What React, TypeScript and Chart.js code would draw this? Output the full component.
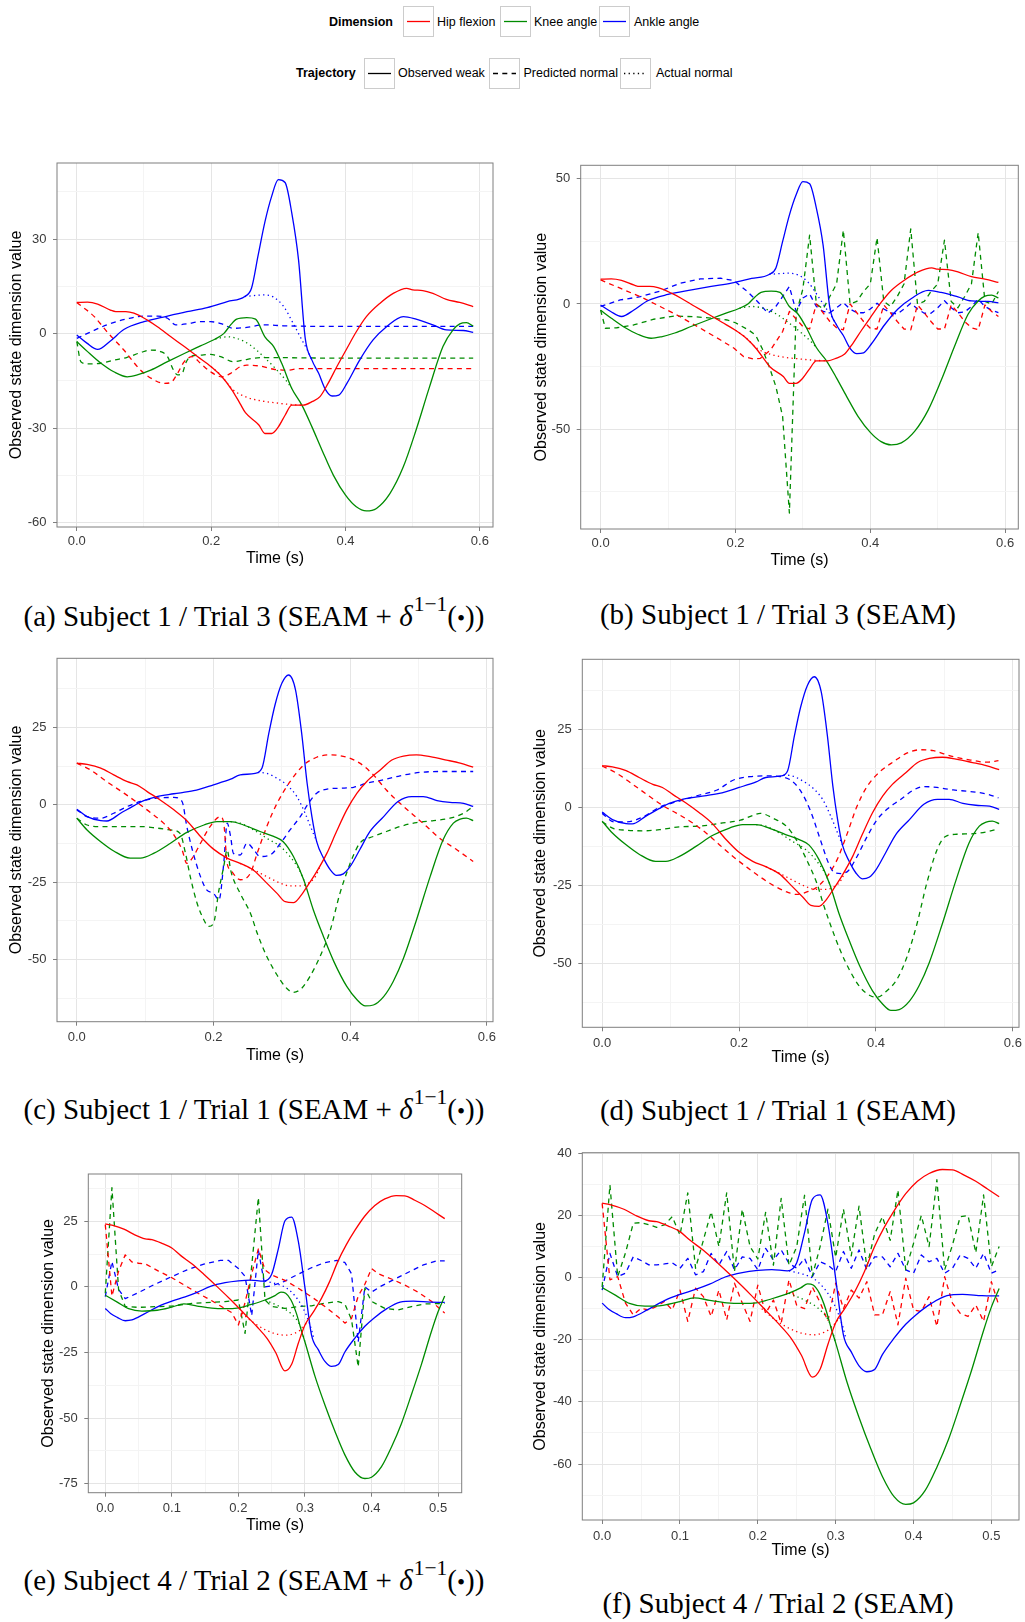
import React, { useEffect, useRef } from "react";
import { Chart, registerables } from "chart.js";

Chart.register(...registerables);

type Pt = [number, number];

// ---------- Subject 1 / Trial 3 (panels a, b): observed weak (solid) & actual normal (dotted) ----------
const s13HipWeak: Pt[] = [[0,9.9],[0.016,10],[0.031,9.4],[0.05,7.5],[0.058,7],[0.073,7],[0.085,6.5],[0.105,4.3],[0.12,2.2],[0.14,-1],[0.16,-4.1],[0.18,-7.3],[0.2,-10.5],[0.216,-13.7],[0.231,-17.9],[0.243,-22.2],[0.251,-25.1],[0.271,-29],[0.28,-31.7],[0.29,-31.7],[0.3,-29.6],[0.31,-25.9],[0.32,-22.7],[0.337,-22.7],[0.35,-21.6],[0.362,-20],[0.374,-15.8],[0.387,-10.5],[0.402,-4.7],[0.416,0.6],[0.431,5.4],[0.451,9.6],[0.471,12.8],[0.491,14.4],[0.5,13.9],[0.515,13.7],[0.53,12.8],[0.55,10.9],[0.57,9.9],[0.59,8.6]];
const s13KneeWeak: Pt[] = [[0,-2.5],[0.016,-5.7],[0.036,-9.4],[0.055,-12.1],[0.075,-13.7],[0.09,-13.1],[0.11,-11.6],[0.135,-8.9],[0.16,-6.3],[0.184,-3.9],[0.206,-1.7],[0.219,0.1],[0.229,2.8],[0.238,4.6],[0.253,5.1],[0.266,4.6],[0.28,-1],[0.293,-4.1],[0.305,-9.4],[0.32,-17.4],[0.335,-22.7],[0.35,-29.6],[0.365,-37],[0.382,-45],[0.4,-51.3],[0.416,-55],[0.431,-56.3],[0.446,-55.5],[0.466,-50.8],[0.486,-42.3],[0.505,-30.6],[0.525,-16.9],[0.545,-4.1],[0.56,1.2],[0.57,3.1],[0.58,3.5],[0.59,2.4]];
const s13AnkleWeak: Pt[] = [[0,-0.4],[0.015,-3],[0.031,-5],[0.05,-2.3],[0.07,1.3],[0.1,3.8],[0.135,5.6],[0.164,7],[0.194,8.3],[0.224,10.2],[0.25,11.8],[0.26,14.4],[0.27,25],[0.28,35.5],[0.29,43.6],[0.3,48.9],[0.31,48],[0.32,38.3],[0.33,23.5],[0.34,-1.5],[0.35,-8.4],[0.36,-12.6],[0.37,-17.7],[0.38,-19.8],[0.39,-19.5],[0.402,-15.8],[0.421,-8.4],[0.441,-2],[0.461,2.2],[0.486,5.4],[0.505,4.6],[0.53,2.8],[0.55,1.2],[0.575,1],[0.59,0.4]];
const s13HipNormal: Pt[] = [[0.2,-10.5],[0.214,-13.1],[0.233,-17.9],[0.253,-20.2],[0.273,-21.3],[0.293,-21.9],[0.318,-22.5],[0.337,-22.7]];
const s13KneeNormal: Pt[] = [[0.206,-1.7],[0.224,-1],[0.238,-1.5],[0.258,-3.6],[0.278,-7.3],[0.298,-11.6],[0.313,-15.3],[0.32,-17.4]];
const s13AnkleNormal: Pt[] = [[0.25,11.8],[0.278,12.3],[0.293,11.6],[0.308,8.6],[0.322,3.3],[0.335,-2],[0.342,-4.7],[0.35,-8.4]];

// panel (a) predicted normal (dashed)
const aHipPred: Pt[] = [[0,9.9],[0.026,5.4],[0.045,0.6],[0.07,-5.2],[0.095,-11.6],[0.115,-14.7],[0.13,-15.8],[0.14,-15.5],[0.15,-12.6],[0.16,-8.9],[0.172,-7.3],[0.184,-9.4],[0.199,-12.1],[0.216,-13.7],[0.229,-12.6],[0.243,-10.5],[0.253,-10],[0.273,-10.3],[0.293,-11.3],[0.313,-11.6],[0.332,-11.1],[0.4,-11.1],[0.5,-11.1],[0.59,-11.1]];
const aKneePred: Pt[] = [[0,-2.5],[0.006,-8.9],[0.016,-9.6],[0.036,-9.4],[0.055,-8.4],[0.075,-7.5],[0.095,-6],[0.11,-5.2],[0.125,-5.7],[0.135,-7.3],[0.144,-11.6],[0.15,-13.1],[0.157,-12.6],[0.162,-9.4],[0.169,-7.3],[0.184,-6.8],[0.199,-6.6],[0.214,-7.3],[0.233,-8.9],[0.248,-8.4],[0.263,-7.8],[0.283,-7.6],[0.4,-7.8],[0.59,-7.8]];
const aAnklePred: Pt[] = [[0,-1.5],[0.021,0.6],[0.045,2.8],[0.075,4.7],[0.1,5.6],[0.12,5.6],[0.135,4.9],[0.147,2.8],[0.164,3.1],[0.184,3.8],[0.199,3.8],[0.216,3.1],[0.233,1.7],[0.253,2],[0.278,2.8],[0.308,2.5],[0.4,2.3],[0.59,2.3]];

// panel (b) predicted normal (dashed)
const bHipPred: Pt[] = [[0,9.6],[0.029,6.3],[0.059,2.9],[0.089,-1.1],[0.118,-5.1],[0.148,-9.7],[0.178,-14.4],[0.198,-17.7],[0.212,-21],[0.227,-22],[0.237,-21.7],[0.252,-18.4],[0.27,-11],[0.28,-3],[0.29,-6],[0.3,-9],[0.31,-10],[0.32,0],[0.33,-3.5],[0.34,-7],[0.35,-9.5],[0.36,-10.3],[0.37,0],[0.38,-3.5],[0.39,-7],[0.4,-9.7],[0.41,-10],[0.42,-0.4],[0.43,-3.5],[0.44,-7],[0.45,-10],[0.46,-10.3],[0.47,-0.4],[0.48,-3.5],[0.49,-7],[0.5,-10],[0.51,-10],[0.52,-0.4],[0.53,-3.5],[0.54,-7],[0.55,-9.5],[0.56,-10.3],[0.57,-0.4],[0.58,-3],[0.59,-5]];
const bKneePred: Pt[] = [[0,-2.4],[0.007,-9.7],[0.024,-9.5],[0.049,-8.4],[0.079,-6.1],[0.109,-4.8],[0.138,-5.1],[0.168,-5.7],[0.188,-6.4],[0.2,-7.5],[0.21,-9],[0.22,-10.5],[0.23,-12.5],[0.24,-18],[0.25,-25],[0.26,-33],[0.27,-45],[0.28,-83.5],[0.29,-4],[0.3,6],[0.31,27.5],[0.32,0],[0.33,-2],[0.34,3],[0.35,8],[0.36,29.5],[0.37,0],[0.38,1],[0.39,5],[0.4,8],[0.41,26.5],[0.42,1],[0.43,-1],[0.44,3],[0.45,8],[0.46,30],[0.47,0],[0.48,1],[0.49,5],[0.5,8],[0.51,25.5],[0.52,1],[0.53,-1.5],[0.54,3],[0.55,8],[0.56,28.5],[0.57,1],[0.58,0],[0.59,5]];
const bAnklePred: Pt[] = [[0,-1],[0.029,1.6],[0.059,2.9],[0.089,5.2],[0.118,8.3],[0.148,10],[0.178,10.3],[0.198,9.3],[0.218,4.9],[0.233,0.9],[0.248,-3.7],[0.26,-1],[0.27,3],[0.28,7],[0.29,-3],[0.3,2.4],[0.31,4],[0.32,-1],[0.33,-3],[0.34,-3.5],[0.35,-1.5],[0.36,0.5],[0.37,-2],[0.38,-3.5],[0.39,-3.5],[0.4,-2],[0.41,0.3],[0.42,-2],[0.43,-3.5],[0.44,-4],[0.45,-2],[0.46,0.3],[0.47,-2],[0.48,-3.7],[0.49,-3.7],[0.5,-1.5],[0.51,1.3],[0.52,-1.5],[0.53,-3.5],[0.54,-3.2],[0.55,-1],[0.56,1.9],[0.57,-1],[0.58,-2.5],[0.59,-3.5]];

// ---------- Subject 1 / Trial 1 (panels c, d) ----------
const s11HipWeak: Pt[] = [[0,13.5],[0.015,13.1],[0.035,11.9],[0.054,9.7],[0.074,7.5],[0.088,6.5],[0.103,4.3],[0.122,1.6],[0.142,-1.6],[0.161,-5.1],[0.181,-10.2],[0.2,-14.3],[0.22,-17.2],[0.239,-18.9],[0.259,-21.2],[0.278,-25.3],[0.293,-28.6],[0.305,-31.3],[0.317,-31.6],[0.327,-29.6],[0.337,-26.4],[0.351,-21.6],[0.366,-15.6],[0.38,-8.6],[0.395,-1.6],[0.41,3.8],[0.424,7.5],[0.444,11.3],[0.461,14.5],[0.478,15.8],[0.497,16.2],[0.517,15.6],[0.541,14.5],[0.561,13.5],[0.58,12.2]];
const s11KneeWeak: Pt[] = [[0,-4.3],[0.015,-8.1],[0.035,-11.9],[0.054,-14.9],[0.078,-17.2],[0.093,-17.2],[0.113,-15.6],[0.137,-12.4],[0.161,-8.9],[0.186,-6.5],[0.205,-5.4],[0.225,-5.4],[0.244,-6.5],[0.268,-8.6],[0.288,-10.2],[0.302,-11.9],[0.317,-16.7],[0.332,-24.2],[0.346,-33.9],[0.361,-42.6],[0.376,-50.6],[0.395,-58.7],[0.41,-63],[0.422,-65],[0.434,-64.7],[0.449,-62],[0.463,-57.1],[0.478,-49.6],[0.497,-37.2],[0.517,-23.2],[0.536,-11.3],[0.551,-5.9],[0.561,-4.6],[0.57,-4.3],[0.58,-5.1]];
const s11AnkleWeak: Pt[] = [[0,-1.4],[0.015,-3.8],[0.035,-5.1],[0.044,-5.2],[0.064,-2.7],[0.083,-0.3],[0.098,1.4],[0.117,2.7],[0.142,3.6],[0.171,4.6],[0.2,6.5],[0.225,8.3],[0.239,9.7],[0.261,10.2],[0.271,11.9],[0.281,23.2],[0.29,32.3],[0.3,39.3],[0.31,42],[0.32,37.2],[0.329,23.2],[0.337,7],[0.344,-3.8],[0.351,-11.9],[0.361,-17.2],[0.371,-21],[0.38,-22.8],[0.39,-22.3],[0.4,-19.9],[0.414,-14.5],[0.429,-8.6],[0.449,-3.8],[0.47,1.1],[0.49,2.7],[0.507,2.7],[0.527,1.4],[0.546,0.8],[0.566,0.5],[0.58,-0.5]];
const s11HipNormal: Pt[] = [[0.239,-18.9],[0.259,-21],[0.278,-23.2],[0.298,-25.3],[0.312,-26.2],[0.327,-26.2],[0.339,-25.3],[0.349,-23.2],[0.357,-19.3]];
const s11KneeNormal: Pt[] = [[0.225,-5.4],[0.239,-5.9],[0.259,-8.1],[0.278,-10.8],[0.298,-13.5],[0.312,-16.7],[0.327,-21.6],[0.334,-25.4]];
const s11AnkleNormal: Pt[] = [[0.265,10.5],[0.278,10.2],[0.293,8.6],[0.307,6.5],[0.322,2.7],[0.334,-2.7],[0.344,-8.1],[0.351,-11.9]];

const cHipPred: Pt[] = [[0,13.5],[0.02,11.3],[0.044,7.5],[0.069,3.8],[0.088,0.8],[0.108,-2.5],[0.127,-5.9],[0.142,-9.7],[0.154,-14.5],[0.161,-18.9],[0.169,-17.2],[0.181,-12.4],[0.195,-7],[0.21,-3.8],[0.215,-5.9],[0.22,-18.9],[0.225,-21],[0.239,-24.2],[0.254,-22.1],[0.264,-15.6],[0.278,-7],[0.293,0.5],[0.312,7.5],[0.332,12.9],[0.351,15.4],[0.371,16.2],[0.395,15.4],[0.414,13.5],[0.434,9.7],[0.453,4.8],[0.473,0.5],[0.492,-3.2],[0.512,-7],[0.531,-10.8],[0.556,-14.5],[0.58,-18.3]];
const cKneePred: Pt[] = [[0,-4.3],[0.015,-6.5],[0.035,-7],[0.064,-7],[0.093,-7],[0.117,-7.5],[0.137,-8.1],[0.151,-9.2],[0.159,-15.6],[0.166,-23.2],[0.176,-31.8],[0.186,-37.2],[0.193,-39.3],[0.2,-38.3],[0.208,-27.5],[0.215,-19.9],[0.22,-14.5],[0.225,-21],[0.239,-28.6],[0.254,-35],[0.264,-41.5],[0.278,-49],[0.293,-55],[0.307,-59.3],[0.317,-60.6],[0.329,-59.3],[0.341,-55.5],[0.356,-49],[0.371,-40.4],[0.385,-28.6],[0.4,-18.9],[0.405,-16.2],[0.414,-12.4],[0.434,-10.2],[0.453,-8.6],[0.473,-7],[0.497,-5.7],[0.522,-5.1],[0.546,-4.3],[0.566,-2.7],[0.58,-0.5]];
const cAnklePred: Pt[] = [[0,-1.6],[0.015,-3.8],[0.035,-4.3],[0.054,-2.7],[0.074,-0.5],[0.093,1.1],[0.117,2.2],[0.142,2.4],[0.154,1.1],[0.161,-7],[0.169,-14.5],[0.181,-23.2],[0.19,-27.5],[0.2,-28.6],[0.208,-30.7],[0.215,-18.9],[0.22,-5.9],[0.225,-10.2],[0.229,-15.6],[0.239,-16.2],[0.249,-12.4],[0.259,-14.5],[0.268,-16.7],[0.283,-16.2],[0.298,-12.4],[0.312,-8.1],[0.327,-3.8],[0.339,0.5],[0.351,3.8],[0.366,5.1],[0.385,5.4],[0.405,5.7],[0.424,7],[0.449,8.1],[0.473,9.4],[0.502,10.5],[0.531,10.8],[0.58,10.8]];

const dHipPred: Pt[] = [[0,13.4],[0.021,11.1],[0.046,7.3],[0.07,3.5],[0.09,0.5],[0.109,-1.8],[0.133,-5],[0.153,-8.3],[0.172,-12],[0.192,-15.8],[0.211,-19],[0.231,-22.2],[0.25,-24.9],[0.27,-27],[0.284,-27.8],[0.299,-27],[0.314,-25.4],[0.328,-22.2],[0.343,-16.8],[0.358,-8.3],[0.372,0.3],[0.387,6.8],[0.406,11.6],[0.426,14.8],[0.445,17.5],[0.465,18.6],[0.484,18.3],[0.499,17.3],[0.513,16.4],[0.538,15.3],[0.562,14.6],[0.579,15.1]];
const dKneePred: Pt[] = [[0,-4.5],[0.017,-6.7],[0.036,-7.2],[0.06,-7.4],[0.085,-7],[0.114,-6.1],[0.143,-5.9],[0.172,-5],[0.202,-4],[0.221,-2.4],[0.231,-1.8],[0.25,-3.4],[0.27,-6.1],[0.284,-10.4],[0.299,-16.8],[0.314,-24.4],[0.323,-30.8],[0.333,-37.2],[0.348,-45.8],[0.362,-52.3],[0.377,-57.6],[0.392,-60.3],[0.401,-60.8],[0.416,-58.7],[0.431,-54.9],[0.445,-48],[0.46,-37.2],[0.474,-24.4],[0.489,-13.6],[0.501,-9.3],[0.518,-8.5],[0.543,-8.3],[0.562,-7.7],[0.579,-6.7]];
const dAnklePred: Pt[] = [[0,-1.8],[0.017,-4.5],[0.036,-4.5],[0.06,-2.9],[0.085,0.3],[0.109,1.9],[0.138,3.8],[0.168,5.7],[0.192,8.9],[0.216,10],[0.241,10.2],[0.26,10],[0.275,8.9],[0.289,5.7],[0.304,-0.8],[0.319,-10.4],[0.331,-17.9],[0.34,-20.9],[0.35,-21.1],[0.36,-20.1],[0.372,-15.8],[0.387,-9.3],[0.401,-4],[0.416,-0.5],[0.435,2.5],[0.455,5.7],[0.47,6.8],[0.489,6.5],[0.513,5.7],[0.538,5.2],[0.562,4.4],[0.579,3.2]];

// ---------- Subject 4 / Trial 2 (panels e, f) ----------
const s42HipWeak: Pt[] = [[0,24],[0.01,23.5],[0.028,22],[0.043,20],[0.06,18.3],[0.07,18],[0.085,16.6],[0.1,14.8],[0.113,12],[0.13,8.8],[0.148,4.8],[0.168,0.1],[0.19,-5.3],[0.21,-10.5],[0.228,-15.2],[0.243,-19.6],[0.256,-25],[0.27,-32],[0.28,-29.5],[0.29,-21.5],[0.3,-14.5],[0.312,-9.8],[0.325,-4.3],[0.337,2],[0.35,10],[0.362,16],[0.375,21.5],[0.39,27],[0.405,31],[0.42,33.5],[0.437,34.8],[0.45,34.7],[0.465,33],[0.48,31],[0.495,28.5],[0.51,26]];
const s42KneeWeak: Pt[] = [[0,-3.2],[0.018,-5.8],[0.035,-8.3],[0.055,-9.2],[0.078,-8.9],[0.1,-7.7],[0.118,-6.5],[0.138,-7.3],[0.16,-8.1],[0.18,-8.3],[0.198,-8.1],[0.218,-6.8],[0.24,-5],[0.255,-3.3],[0.264,-2],[0.271,-2.4],[0.279,-5],[0.287,-10],[0.295,-17],[0.3,-21],[0.315,-34],[0.33,-45],[0.345,-55],[0.36,-64],[0.375,-70.5],[0.39,-73],[0.4,-72.5],[0.415,-68.5],[0.43,-61],[0.445,-52],[0.46,-41],[0.475,-29.5],[0.49,-17],[0.5,-9.5],[0.51,-3.5]];
const s42AnkleWeak: Pt[] = [[0,-8.2],[0.008,-10.1],[0.018,-11.6],[0.03,-12.9],[0.04,-12.6],[0.058,-10.4],[0.08,-7.4],[0.1,-5.4],[0.12,-3.8],[0.138,-2.1],[0.158,0.2],[0.18,1.6],[0.2,2.3],[0.218,2.6],[0.238,2.2],[0.25,4.8],[0.26,14.5],[0.27,25.2],[0.28,26.6],[0.29,17.4],[0.3,-0.3],[0.31,-18.5],[0.32,-23.9],[0.33,-28.4],[0.34,-30.3],[0.35,-29.6],[0.36,-24.8],[0.375,-19.5],[0.39,-15],[0.403,-12],[0.423,-8.3],[0.443,-5.8],[0.463,-5.4],[0.488,-5.8],[0.51,-5.9]];
const s42HipNormal: Pt[] = [[0.205,-10],[0.222,-13.5],[0.24,-16.3],[0.258,-18],[0.272,-18.4],[0.285,-17.6],[0.295,-16],[0.303,-13.5]];
const s42KneeNormal: Pt[] = [[0.24,-5],[0.262,-7.5],[0.28,-10.4],[0.293,-15],[0.3,-21]];
const s42AnkleNormal: Pt[] = [[0.24,2.2],[0.258,1.1],[0.272,-0.4],[0.285,-3.4],[0.297,-8],[0.305,-12.7],[0.31,-16.5],[0.313,-19.5]];

const eHipPred: Pt[] = [[0,23.7],[0.01,-3.5],[0.02,6],[0.03,12.2],[0.04,9.5],[0.05,9],[0.06,8.8],[0.08,6],[0.1,3.5],[0.12,0.5],[0.14,-2.5],[0.16,-5.3],[0.18,-8.3],[0.19,-9.8],[0.2,-14.5],[0.21,-6],[0.22,5],[0.23,14.5],[0.24,6.5],[0.25,4.5],[0.27,2.5],[0.29,-0.5],[0.31,-3.8],[0.33,-7.5],[0.35,-11.5],[0.36,-13.8],[0.37,-12],[0.38,-3.5],[0.39,1],[0.4,7],[0.41,5],[0.43,3],[0.45,0.7],[0.47,-2],[0.49,-5.5],[0.51,-10]];
const eKneePred: Pt[] = [[0,-2.4],[0.01,37.8],[0.02,-1],[0.03,-7.5],[0.05,-7.8],[0.08,-7.5],[0.1,-7.3],[0.13,-6.3],[0.15,-6],[0.18,-5.6],[0.2,-5],[0.21,-17.7],[0.22,8],[0.23,34],[0.24,-5],[0.25,-7.5],[0.27,-8.2],[0.29,-7.5],[0.31,-7.2],[0.33,-6.2],[0.35,-5.6],[0.36,-6.5],[0.37,-12.5],[0.38,-30.5],[0.39,-0.5],[0.4,-5.5],[0.42,-8.2],[0.44,-8.8],[0.46,-7.5],[0.48,-6.5],[0.51,-6.3]];
const eAnklePred: Pt[] = [[0,-3.7],[0.01,9.7],[0.02,-1],[0.03,-4.5],[0.048,-2.4],[0.073,0.8],[0.098,3.7],[0.123,6.5],[0.148,8.7],[0.173,10.1],[0.185,10.1],[0.2,7],[0.21,4],[0.22,-11],[0.23,14],[0.24,0],[0.25,0.4],[0.268,2],[0.288,4.6],[0.308,7.1],[0.328,9.1],[0.348,10.1],[0.36,9.3],[0.37,5],[0.38,-21],[0.39,0],[0.4,-2],[0.413,0.1],[0.433,2.7],[0.458,5.9],[0.478,8.4],[0.498,9.9],[0.51,9.9]];

const tF = [0,0.01,0.02,0.03,0.04,0.05,0.06,0.07,0.08,0.09,0.1,0.11,0.12,0.13,0.14,0.15,0.16,0.17,0.18,0.19,0.2,0.21,0.22,0.23,0.24,0.25,0.26,0.27,0.28,0.29,0.3,0.31,0.32,0.33,0.34,0.35,0.36,0.37,0.38,0.39,0.4,0.41,0.42,0.43,0.44,0.45,0.46,0.47,0.48,0.49,0.5,0.51];
const fHipPred = [23.9,-0.7,0.3,-8.2,-12,-9.9,-10.4,-9.3,-7.7,-10.4,-4,-14.1,-3.4,-6.1,-12.5,-4,-13.6,-1.8,-8.2,-14.1,-2.4,-11.5,-7.2,-14.7,-0.7,-9,-10,-3,-8,-14,-1.8,-10,-4,-6.6,-1.3,-12,-12,-4.5,-15.2,-0.2,-10.4,-10.9,-6.1,-15.7,0.3,-8.2,-11.5,-12.5,-8.8,-14.1,-1.3,-9.3];
const fKneePred = [-3,29.8,0.3,8,17.5,17.7,17,16.2,17,19.6,13.7,27.3,3,12,21.2,10,27.3,2,22,10,6,21,4,25.5,4,10,26.5,0.5,10,22,6.5,22,7,23,3.5,14,19.6,12,28.2,2.5,11,20,10,31.5,2.5,10.5,19.6,20,8,26.6,3.5,10];
const fAnklePred = [-4,7.8,0.3,1.4,6.7,5.5,4.1,4.1,4.4,4.8,3,6.2,0.9,1.9,7.8,4.1,8.4,2.5,6.7,6.2,2.5,9.4,5.7,8.9,4.6,3,6.2,0.3,5.1,4,2,8.4,3,8.9,2.5,6.7,6.7,3.5,7.8,2.5,1.4,7.3,5.1,6.2,1.4,3,7.3,6.2,3,7.8,1.4,2.5];

// ---------- axes ----------
const xMajor6 = [0, 0.2, 0.4, 0.6];
const xMinor6 = [0.1, 0.3, 0.5];
const xMajor5 = [0, 0.1, 0.2, 0.3, 0.4, 0.5];
const xMinor5 = [0.05, 0.15, 0.25, 0.35, 0.45];
const yMajorA = [-60, -30, 0, 30];
const yMinorA = [-45, -15, 15, 45];
const yMajorB = [-50, 0, 50];
const yMinorB = [-75, -25, 25];
const yMajorCD = [-50, -25, 0, 25];
const yMinorCD = [-62.5, -37.5, -12.5, 12.5, 37.5];
const yMajorE = [-75, -50, -25, 0, 25];
const yMinorE = [-62.5, -37.5, -12.5, 12.5, 37.5];
const yMajorF = [-60, -40, -20, 0, 20, 40];
const yMinorF = [-70, -50, -30, -10, 10, 30];

const xAxisTitle = "Time (s)";
const yAxisTitle = "Observed state dimension value";
const dimensionNames = ["Hip flexion", "Knee angle", "Ankle angle"];
const trajectoryNames = ["Observed weak", "Predicted normal", "Actual normal"];

const RED = "#FF0000";
const GREEN = "#008B00";
const BLUE = "#0000FF";
const SANS = '"Liberation Sans", Arial, Helvetica, sans-serif';
const SERIF = '"Liberation Serif", "Times New Roman", Times, serif';
const DASH = [5, 4.3];
const DOT = [1.3, 3.3];
const TITLE_SIZE = 16;
const TICK_SIZE = 13;
const HALF_TITLE = (TITLE_SIZE * 1.2) / 2;
const HALF_TICK = (TICK_SIZE * 1.2) / 2;

const fromGrid = (t: number[], v: number[]): Pt[] => t.map((x, i) => [x, v[i]] as Pt);

type Style = "solid" | "dashed" | "dotted";
type Series = { data: Pt[]; color: string; style: Style; straight?: boolean };
type PanelSpec = {
  area: { L: number; T: number; R: number; B: number };
  yTitleX: number;
  xLabelY: number;
  xTitleY: number;
  xRange: [number, number];
  yRange: [number, number];
  xMajor: number[];
  xMinor: number[];
  yMajor: number[];
  yMinor: number[];
  series: Series[];
};

function group(hipW: Pt[], kneeW: Pt[], ankW: Pt[], hipN: Pt[], kneeN: Pt[], ankN: Pt[], hipP: Pt[], kneeP: Pt[], ankP: Pt[], straightPred: boolean): Series[] {
  return [
    { data: hipW, color: RED, style: "solid" },
    { data: kneeW, color: GREEN, style: "solid" },
    { data: ankW, color: BLUE, style: "solid" },
    { data: hipN, color: RED, style: "dotted" },
    { data: kneeN, color: GREEN, style: "dotted" },
    { data: ankN, color: BLUE, style: "dotted" },
    { data: hipP, color: RED, style: "dashed", straight: straightPred },
    { data: kneeP, color: GREEN, style: "dashed", straight: straightPred },
    { data: ankP, color: BLUE, style: "dashed", straight: straightPred },
  ];
}

const panels: PanelSpec[] = [
  {
    area: { L: 57, T: 163, R: 493, B: 527 }, yTitleX: 17, xLabelY: 541.5, xTitleY: 559,
    xRange: [-0.0295, 0.6195], yRange: [-61.4, 54.2], xMajor: xMajor6, xMinor: xMinor6, yMajor: yMajorA, yMinor: yMinorA,
    series: group(s13HipWeak, s13KneeWeak, s13AnkleWeak, s13HipNormal, s13KneeNormal, s13AnkleNormal, aHipPred, aKneePred, aAnklePred, false),
  },
  {
    area: { L: 580.7, T: 165.3, R: 1018.3, B: 529 }, yTitleX: 541.5, xLabelY: 543, xTitleY: 561,
    xRange: [-0.0295, 0.6195], yRange: [-89.9, 55.4], xMajor: xMajor6, xMinor: xMinor6, yMajor: yMajorB, yMinor: yMinorB,
    series: group(s13HipWeak, s13KneeWeak, s13AnkleWeak, s13HipNormal, s13KneeNormal, s13AnkleNormal, bHipPred, bKneePred, bAnklePred, true),
  },
  {
    area: { L: 57, T: 658.3, R: 493, B: 1021.7 }, yTitleX: 17, xLabelY: 1037, xTitleY: 1055.5,
    xRange: [-0.029, 0.609], yRange: [-70.1, 47.4], xMajor: xMajor6, xMinor: xMinor6, yMajor: yMajorCD, yMinor: yMinorCD,
    series: group(s11HipWeak, s11KneeWeak, s11AnkleWeak, s11HipNormal, s11KneeNormal, s11AnkleNormal, cHipPred, cKneePred, cAnklePred, false),
  },
  {
    area: { L: 582.3, T: 659.3, R: 1019, B: 1027.3 }, yTitleX: 541, xLabelY: 1043, xTitleY: 1057.5,
    xRange: [-0.029, 0.609], yRange: [-70.4, 47.6], xMajor: xMajor6, xMinor: xMinor6, yMajor: yMajorCD, yMinor: yMinorCD,
    series: group(s11HipWeak, s11KneeWeak, s11AnkleWeak, s11HipNormal, s11KneeNormal, s11AnkleNormal, dHipPred, dKneePred, dAnklePred, false),
  },
  {
    area: { L: 88.3, T: 1174, R: 461.7, B: 1492.7 }, yTitleX: 49, xLabelY: 1508, xTitleY: 1525.5,
    xRange: [-0.0255, 0.5355], yRange: [-78.4, 43.0], xMajor: xMajor5, xMinor: xMinor5, yMajor: yMajorE, yMinor: yMinorE,
    series: group(s42HipWeak, s42KneeWeak, s42AnkleWeak, s42HipNormal, s42KneeNormal, s42AnkleNormal, eHipPred, eKneePred, eAnklePred, true),
  },
  {
    area: { L: 582.3, T: 1152.7, R: 1019, B: 1520 }, yTitleX: 540.5, xLabelY: 1536, xTitleY: 1550.5,
    xRange: [-0.0255, 0.5355], yRange: [-78.0, 40.2], xMajor: xMajor5, xMinor: xMinor5, yMajor: yMajorF, yMinor: yMinorF,
    series: group(s42HipWeak, s42KneeWeak, s42AnkleWeak, s42HipNormal, s42KneeNormal, s42AnkleNormal,
      fromGrid(tF, fHipPred), fromGrid(tF, fKneePred), fromGrid(tF, fAnklePred), true),
  },
];

const captions = [
  { cx: 254, cy: 617, text: "(a) Subject 1 / Trial 3 (SEAM", delta: true },
  { cx: 778, cy: 614, text: "(b) Subject 1 / Trial 3 (SEAM", delta: false },
  { cx: 254, cy: 1110, text: "(c) Subject 1 / Trial 1 (SEAM", delta: true },
  { cx: 778, cy: 1110, text: "(d) Subject 1 / Trial 1 (SEAM", delta: false },
  { cx: 254, cy: 1581, text: "(e) Subject 4 / Trial 2 (SEAM", delta: true },
  { cx: 778, cy: 1603, text: "(f) Subject 4 / Trial 2 (SEAM", delta: false },
];

const MAJOR_GRID = "#E5E5E5";
const MINOR_GRID = "#F4F4F4";
const TICK_MARK = "#7F7F7F";
const TICK_TEXT = "#3A3A3A";

const borderPlugin = {
  id: "panelBorder",
  afterDatasetsDraw(chart: any) {
    const { ctx, chartArea: a } = chart;
    ctx.save();
    ctx.strokeStyle = "#7F7F7F";
    ctx.lineWidth = 1;
    ctx.strokeRect(a.left, a.top, a.right - a.left, a.bottom - a.top);
    ctx.restore();
  },
};

const isIn = (arr: number[], v: number) => arr.some((m) => Math.abs(m - v) < 1e-9);

function Panel({ spec }: { spec: PanelSpec }) {
  const ref = useRef<HTMLCanvasElement>(null);
  const { area } = spec;
  const left = Math.round(spec.yTitleX - 12);
  const top = Math.round(area.T - 18);
  const width = Math.round(area.R + 14 - left);
  const xH = spec.xTitleY - area.B + HALF_TITLE;
  const height = Math.round(area.B + xH + 3 - top);

  useEffect(() => {
    const padTop = area.T - top;
    const padRight = left + width - area.R;
    const padBottom = top + height - area.B - xH;
    const yW = area.L - left;
    const xAll = [...spec.xMajor, ...spec.xMinor].sort((a, b) => a - b);
    const yAll = [...spec.yMajor, ...spec.yMinor].sort((a, b) => a - b);
    const xPad = spec.xLabelY - area.B - HALF_TICK - 4;
    const yTitlePad = spec.yTitleX - left - HALF_TITLE;

    const chart = new Chart(ref.current as HTMLCanvasElement, {
      type: "line",
      data: {
        datasets: spec.series.map((s) => ({
          data: s.data.map(([x, y]) => ({ x, y })),
          borderColor: s.color,
          backgroundColor: s.color,
          borderWidth: 1.3,
          borderDash: s.style === "dashed" ? DASH : s.style === "dotted" ? DOT : [],
          borderCapStyle: "butt",
          borderJoinStyle: "round",
          pointRadius: 0,
          pointHoverRadius: 0,
          fill: false,
          tension: 0,
          cubicInterpolationMode: s.straight ? "default" : "monotone",
        })),
      },
      options: {
        responsive: false,
        animation: false,
        devicePixelRatio: 1,
        events: [],
        layout: { padding: { left: 0, top: padTop, right: padRight, bottom: padBottom } },
        plugins: { legend: { display: false }, tooltip: { enabled: false }, title: { display: false } },
        scales: {
          x: {
            type: "linear",
            position: "bottom",
            min: spec.xRange[0],
            max: spec.xRange[1],
            afterBuildTicks: (s: any) => {
              s.ticks = xAll.map((v) => ({ value: v }));
            },
            afterFit: (s: any) => {
              s.height = xH;
            },
            ticks: {
              autoSkip: false,
              maxRotation: 0,
              minRotation: 0,
              padding: xPad,
              color: TICK_TEXT,
              font: { family: SANS, size: TICK_SIZE },
              callback: (v: any) => (isIn(spec.xMajor, Number(v)) ? Number(v).toFixed(1) : ""),
            },
            grid: {
              color: (c: any) => (c.tick && isIn(spec.xMajor, c.tick.value) ? MAJOR_GRID : MINOR_GRID),
              tickColor: (c: any) => (c.tick && isIn(spec.xMajor, c.tick.value) ? TICK_MARK : "rgba(0,0,0,0)"),
              tickLength: 4,
              lineWidth: 1,
            },
            border: { display: false },
            title: { display: true, text: xAxisTitle, color: "#000", font: { family: SANS, size: TITLE_SIZE }, padding: { top: 0, bottom: 0 } },
          },
          y: {
            type: "linear",
            position: "left",
            min: spec.yRange[0],
            max: spec.yRange[1],
            afterBuildTicks: (s: any) => {
              s.ticks = yAll.map((v) => ({ value: v }));
            },
            afterFit: (s: any) => {
              s.width = yW;
            },
            ticks: {
              autoSkip: false,
              padding: 6.5,
              color: TICK_TEXT,
              font: { family: SANS, size: TICK_SIZE },
              callback: (v: any) => (isIn(spec.yMajor, Number(v)) ? String(v) : ""),
            },
            grid: {
              color: (c: any) => (c.tick && isIn(spec.yMajor, c.tick.value) ? MAJOR_GRID : MINOR_GRID),
              tickColor: (c: any) => (c.tick && isIn(spec.yMajor, c.tick.value) ? TICK_MARK : "rgba(0,0,0,0)"),
              tickLength: 4,
              lineWidth: 1,
            },
            border: { display: false },
            title: { display: true, text: yAxisTitle, color: "#000", font: { family: SANS, size: TITLE_SIZE }, padding: { top: yTitlePad, bottom: 0 } },
          },
        },
      } as any,
      plugins: [borderPlugin],
    } as any);
    return () => chart.destroy();
  }, []);

  return (
    <canvas
      ref={ref}
      width={width}
      height={height}
      style={{ position: "absolute", left, top, width, height }}
    />
  );
}

function KeyBox({ x, y, stroke, dash }: { x: number; y: number; stroke: string; dash?: string }) {
  return (
    <div style={{ position: "absolute", left: x, top: y, width: 31, height: 31, boxSizing: "border-box", border: "1px solid #CCCCCC", background: "#fff" }}>
      <svg width={29} height={29} style={{ position: "absolute", left: 0, top: 0 }}>
        <line x1={3} y1={14.5} x2={26} y2={14.5} stroke={stroke} strokeWidth={1.3} strokeDasharray={dash} />
      </svg>
    </div>
  );
}

function Legend() {
  const txt = (x: number, cy: number, s: string, bold = false) => (
    <div style={{ position: "absolute", left: x, top: cy - 8, height: 16, lineHeight: "16px", fontFamily: SANS, fontSize: 12.5, fontWeight: bold ? 700 : 400, color: "#000", whiteSpace: "nowrap" }}>{s}</div>
  );
  const dimColors = [RED, GREEN, BLUE];
  const dimBoxX = [403, 499.5, 599];
  const dimTextX = [437, 534, 634];
  const trajDash = [undefined, "5 4.3", "1.3 3.3"];
  const trajBoxX = [363.5, 488.5, 620];
  const trajTextX = [398, 523.5, 656];
  return (
    <>
      {txt(329, 22, "Dimension", true)}
      {dimensionNames.map((n, i) => (
        <React.Fragment key={n}>
          <KeyBox x={dimBoxX[i]} y={6} stroke={dimColors[i]} />
          {txt(dimTextX[i], 22, n)}
        </React.Fragment>
      ))}
      {txt(296, 73.3, "Trajectory", true)}
      {trajectoryNames.map((n, i) => (
        <React.Fragment key={n}>
          <KeyBox x={trajBoxX[i]} y={57.5} stroke="#000" dash={trajDash[i]} />
          {txt(trajTextX[i], 73.3, n)}
        </React.Fragment>
      ))}
    </>
  );
}

export default function App() {
  return (
    <div style={{ position: "absolute", left: 0, top: 0, width: 1025, height: 1622, background: "#fff", overflow: "hidden" }}>
      <Legend />
      {panels.map((p, i) => (
        <Panel key={i} spec={p} />
      ))}
      {captions.map((c, i) => (
        <div
          key={i}
          style={{ position: "absolute", left: c.cx, top: c.cy, transform: "translate(-50%, -50%)", fontFamily: SERIF, fontSize: 29, lineHeight: "34px", whiteSpace: "nowrap", color: "#000" }}
        >
          {c.text}
          {c.delta ? (
            <>
              {" + "}
              <i>δ</i>
              <span style={{ fontSize: "0.74em", position: "relative", top: "-0.7em", marginLeft: "0.05em" }}>1−1</span>
              (<span style={{ fontSize: "0.8em" }}>•</span>)
            </>
          ) : null}
          )
        </div>
      ))}
    </div>
  );
}
